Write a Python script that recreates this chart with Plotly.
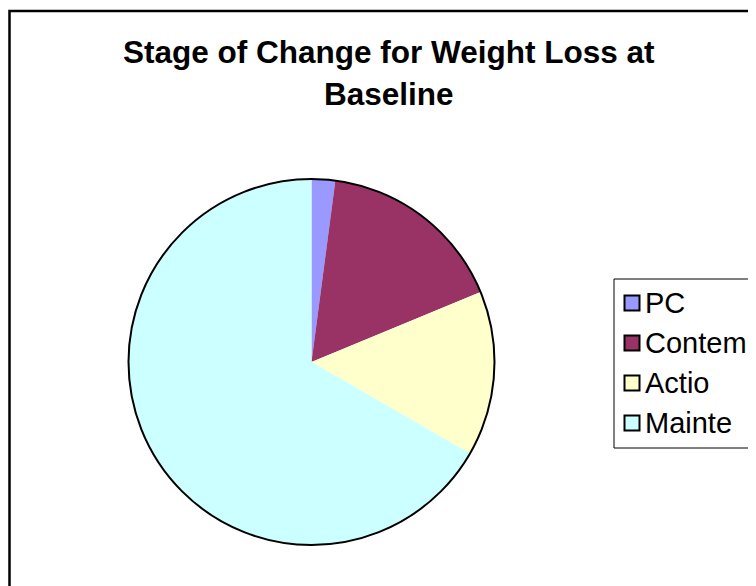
import plotly.graph_objects as go

# ---- data ----
labels = ["PC", "Contem", "Actio", "Mainte"]
values = [1, 8, 7, 32]
colors = ["#9999FF", "#993366", "#FFFFCC", "#CCFFFF"]
title_lines = ["Stage of Change for Weight Loss at", "Baseline"]

W, H = 756, 586
OFF = 8  # page body margin


def px(x):
    return (x - OFF) / W


def py(y):
    return 1 - (y - OFF) / H


# pie geometry (screen pixels)
cx, cy, r = 311.5, 362, 183

fig = go.Figure(
    go.Pie(
        labels=labels,
        values=values,
        marker=dict(colors=colors, line=dict(width=0)),
        sort=False,
        direction="clockwise",
        rotation=0,
        textinfo="none",
        showlegend=False,
        domain=dict(x=[px(cx - r), px(cx + r)], y=[py(cy + r), py(cy - r)]),
    )
)

shapes = []
# outer chart frame
shapes.append(dict(type="rect", xref="paper", yref="paper",
                   x0=px(9.5), y0=py(11), x1=px(W + 60), y1=py(H + 60),
                   line=dict(color="black", width=2.5), fillcolor="rgba(0,0,0,0)"))
# pie outline
shapes.append(dict(type="circle", xref="paper", yref="paper",
                   x0=px(cx - r), x1=px(cx + r), y0=py(cy + r), y1=py(cy - r),
                   line=dict(color="black", width=2)))
# legend box
shapes.append(dict(type="rect", xref="paper", yref="paper",
                   x0=px(614), y0=py(279), x1=px(W + 60), y1=py(448),
                   line=dict(color="black", width=1), fillcolor="white", layer="below"))

annotations = []
row_y = [303, 343, 383, 423]
for lab, col, yy in zip(labels, colors, row_y):
    shapes.append(dict(type="rect", xref="paper", yref="paper",
                       x0=px(624.5), x1=px(639.5), y0=py(yy + 7.5), y1=py(yy - 7.5),
                       line=dict(color="black", width=2), fillcolor=col))
    annotations.append(dict(text=lab, xref="paper", yref="paper",
                            x=px(643), y=py(yy), xanchor="left", yanchor="middle",
                            showarrow=False,
                            font=dict(family="Liberation Sans, Arial", size=29, color="black")))

# title lines
for t, yy in zip(title_lines, [52, 94]):
    annotations.append(dict(text="<b>" + t + "</b>", xref="paper", yref="paper",
                            x=px(389), y=py(yy), xanchor="center", yanchor="middle",
                            showarrow=False,
                            font=dict(family="Liberation Sans, Arial", size=31.5, color="black")))

fig.update_layout(
    width=W, height=H,
    margin=dict(l=0, r=0, t=0, b=0),
    paper_bgcolor="white",
    plot_bgcolor="white",
    shapes=shapes,
    annotations=annotations,
)

fig.write_html("out.html")
